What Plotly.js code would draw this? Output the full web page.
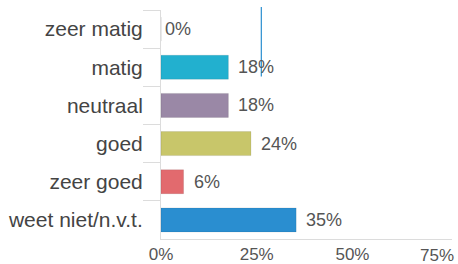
<!DOCTYPE html>
<html>
<head>
<meta charset="utf-8">
<script src="https://cdn.plot.ly/plotly-3.0.1.min.js"></script>
<style>
html,body{margin:0;padding:0;background:#fff;}
#chart{width:458px;height:264px;}
</style>
</head>
<body>
<div id="chart"></div>
<script>
const categories = ["zeer matig", "matig", "neutraal", "goed", "zeer goed", "weet niet/n.v.t."];
const values = [0, 17.6, 17.6, 23.5, 5.9, 35.3];
const valueLabels = ["0%", "18%", "18%", "24%", "6%", "35%"];
const barColors = ["#22b0cf", "#22b0cf", "#9a88a6", "#c8c66a", "#e26a6e", "#2a8ed0"];
const tickValues = [0, 25, 50];
const tickLabels = ["0%", "25%", "50%"];
const lastTickValue = 75;
const lastTickLabel = "75%";

const trace = {
  type: "bar",
  orientation: "h",
  y: categories,
  x: values,
  marker: {color: barColors, line: {width: 0.6, color: "rgba(0,0,0,0.15)"}},
  hoverinfo: "none",
  cliponaxis: false
};

const tickFont = {family: "Liberation Sans, Arial, sans-serif", size: 17, color: "#555"};

const annotations = categories.map((c, i) => ({
  x: values[i], y: c, xref: "x", yref: "y",
  text: valueLabels[i], showarrow: false,
  xanchor: "left", yanchor: "middle", xshift: i === 0 ? 2 : 8,
  font: {family: "Liberation Sans, Arial, sans-serif", size: 18, color: "#555"}
}));
// last x tick label, kept inside the picture like in the reference
annotations.push({
  x: lastTickValue, y: 0, xref: "x", yref: "paper",
  text: lastTickLabel, showarrow: false,
  xanchor: "right", yanchor: "top", xshift: 8, yshift: -5,
  font: tickFont
});

const layout = {
  width: 458, height: 264,
  margin: {l: 161, r: 6, t: 10, b: 25},
  paper_bgcolor: "#fff", plot_bgcolor: "#fff",
  showlegend: false,
  bargap: 0.37,
  font: {family: "Liberation Sans, Arial, sans-serif", size: 16, color: "#444"},
  xaxis: {
    range: [0, 76],
    tickvals: tickValues, ticktext: tickLabels,
    showgrid: false, zeroline: false,
    showline: true, linecolor: "#dcdcdc", linewidth: 1,
    ticks: "", ticklabelstandoff: 0, ticklabeloverflow: "allow",
    tickfont: tickFont,
    fixedrange: true
  },
  yaxis: {
    type: "category",
    categoryorder: "array", categoryarray: categories,
    autorange: "reversed",
    showgrid: false, zeroline: false,
    showline: true, linecolor: "#dcdcdc", linewidth: 1,
    ticks: "outside", tickson: "boundaries", ticklen: 17, tickcolor: "#dcdcdc", tickwidth: 1,
    ticklabelstandoff: 13,
    tickfont: {size: 21, color: "#444"},
    fixedrange: true
  },
  annotations: annotations,
  shapes: [{
    type: "line", xref: "x", yref: "paper",
    x0: 26.2, x1: 26.2, y0: 1.013, y1: 0.71,
    line: {color: "#2a8ed0", width: 1.2}
  }]
};

Plotly.newPlot("chart", [trace], layout, {staticPlot: true, displayModeBar: false});
</script>
</body>
</html>
